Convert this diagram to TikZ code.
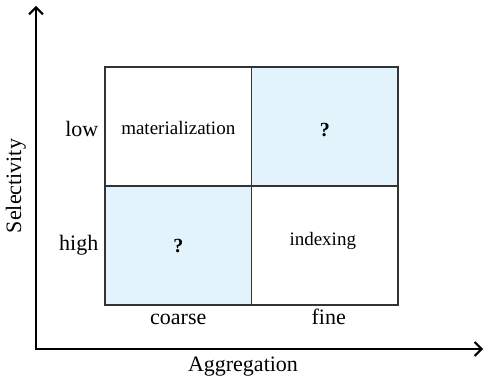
\documentclass[tikz,border=0pt]{standalone}
\usepackage{fontspec}
\setmainfont{Liberation Serif}
\usetikzlibrary{arrows.meta, positioning}
\definecolor{qBlue}{HTML}{E2F3FB}

\begin{document}
\begin{tikzpicture}[x=1pt, y=-1pt,
      cell/.style={draw=black!80, line width=1.1pt, minimum width=146.5pt,
        minimum height=119pt, inner sep=0pt},
      ctxt/.style={font=\fontsize{19}{22}\selectfont, inner sep=0pt, anchor=base},
      lbl/.style={font=\fontsize{22}{26}\selectfont, inner sep=0pt,
        text height=15pt, text depth=5pt},
      axis/.style={line width=2pt,
        {Straight Barb[length=7pt,width=14pt]}-{Straight Barb[length=7pt,width=14pt]}}]
    \useasboundingbox (0,0) rectangle (484,377);
    % cells of the matrix
    \node[cell] (ml) at (178.25,126.5) {};
    \node[cell, fill=qBlue] (fl) at (324.75,126.5) {};
    \node[cell, fill=qBlue] (ch) at (178.25,245.5) {};
    \node[cell] (fh) at (324.75,245.5) {};
    \node[ctxt] (mlt) at ([yshift=-8.5pt]ml.center) {materialization};
    \node[ctxt, font=\fontsize{20}{22}\selectfont\bfseries] (flt) at ([yshift=-9.5pt]fl.center) {?};
    \node[ctxt, font=\fontsize{20}{22}\selectfont\bfseries] (cht) at ([yshift=-6.5pt]ch.center) {?};
    \node[ctxt] (fht) at ([xshift=-2pt]fh.center) {indexing};
    % row and column headers
    \node[lbl, left=6pt of ml, yshift=-5pt] (low) {low};
    \node[lbl, left=6pt of ch] (high) {high};
    \node[lbl, below=4pt of ch] (coarse) {coarse};
    \node[lbl, below=4pt of fh, xshift=4pt] (fine) {fine};
    % axes
    \coordinate (o) at (36,349);
    \coordinate (ytop) at (36,6);
    \coordinate (xend) at (483,349);
    \draw[axis] (ytop) -- (o) -- (xend);
    \node[lbl, anchor=base] (agg) at (243,371) {Aggregation};
    \node[lbl, rotate=90] (sel) at (16,186) {Selectivity};
  \end{tikzpicture}
\end{document}
